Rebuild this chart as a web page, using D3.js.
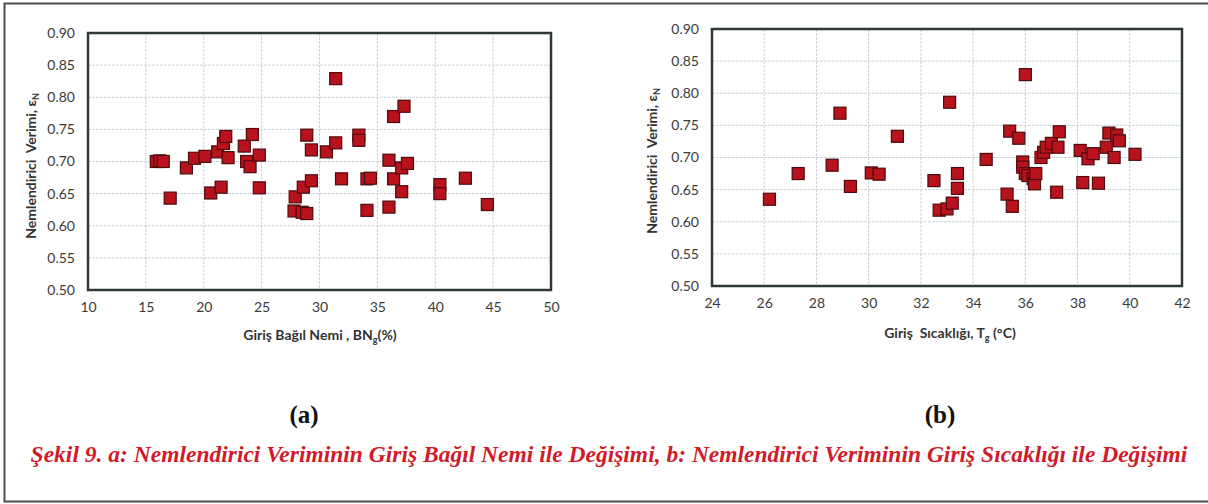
<!DOCTYPE html>
<html>
<head>
<meta charset="utf-8">
<script src="https://cdn.jsdelivr.net/npm/d3@7"></script>
<style>
  body { margin: 0; background: #fff; }
  svg { display: block; }
  .tick text { font-family: Lato, "Noto Sans", sans-serif; font-size: 14px; fill: #3a3a3a; }
  .axis-title { font-family: Lato, "Noto Sans", sans-serif; font-size: 14px; font-weight: bold; fill: #333; }
</style>
</head>
<body>
<svg id="fig" width="1208" height="504"></svg>
<script>
// (a) inlet relative humidity (%) vs humidifier efficiency
const rhX = [15.9, 16.2, 16.5, 17.1, 18.5, 19.2, 20.1, 20.6, 21.5, 21.2, 21.7, 21.9, 22.1, 23.5, 23.7, 24.0,
  24.2, 24.8, 24.8, 27.9, 27.8, 28.5, 28.9, 28.6, 29.3, 28.9, 29.3, 30.6, 31.4, 31.4, 31.9, 33.4, 33.4, 34.1,
  34.4, 34.1, 36.0, 36.0, 36.4, 36.4, 37.3, 37.1, 37.6, 37.1, 40.4, 40.4, 42.6, 44.5];
const rhEff = [0.700, 0.701, 0.700, 0.643, 0.690, 0.705, 0.708, 0.651, 0.660, 0.715, 0.728, 0.739, 0.706, 0.724, 0.700, 0.692,
  0.742, 0.710, 0.659, 0.645, 0.623, 0.621, 0.619, 0.660, 0.670, 0.741, 0.718, 0.715, 0.829, 0.729, 0.673, 0.741, 0.733, 0.673,
  0.674, 0.624, 0.629, 0.702, 0.770, 0.673, 0.786, 0.690, 0.697, 0.653, 0.664, 0.650, 0.674, 0.633];

// (b) inlet temperature (°C) vs humidifier efficiency
const tempX = [26.2, 27.3, 28.6, 28.9, 29.3, 30.1, 30.4, 31.1, 32.5, 32.7, 33.0, 33.2, 33.1, 33.4, 33.4, 34.5,
  35.3, 35.5, 35.4, 35.75, 36.0, 35.9, 35.9, 36.0, 36.1, 36.3, 36.35, 36.4, 36.6, 36.7, 36.8, 37.0, 37.25, 37.3,
  37.2, 38.1, 38.2, 38.4, 38.6, 38.8, 39.1, 39.2, 39.5, 39.6, 39.4, 40.2];
const tempEff = [0.635, 0.675, 0.688, 0.769, 0.655, 0.676, 0.674, 0.733, 0.664, 0.618, 0.620, 0.629, 0.786, 0.675, 0.652, 0.697,
  0.643, 0.624, 0.741, 0.730, 0.829, 0.693, 0.685, 0.675, 0.672, 0.667, 0.659, 0.675, 0.700, 0.708, 0.716, 0.722, 0.716, 0.740,
  0.646, 0.711, 0.661, 0.698, 0.706, 0.660, 0.716, 0.738, 0.735, 0.726, 0.700, 0.705];

const effTicks = [0.50, 0.55, 0.60, 0.65, 0.70, 0.75, 0.80, 0.85, 0.90];
const rhTicks = [10, 15, 20, 25, 30, 35, 40, 45, 50];
const tempTicks = [24, 26, 28, 30, 32, 34, 36, 38, 40, 42];

const svg = d3.select("#fig");

// outer frame
svg.append("rect")
  .attr("x", 4.5).attr("y", 3.5).attr("width", 1215).attr("height", 498)
  .attr("fill", "none").attr("stroke", "#4d4d4d").attr("stroke-width", 2);

function scatter(opt) {
  const x = d3.scaleLinear().domain(d3.extent(opt.xTicks)).range([opt.left, opt.right]);
  const y = d3.scaleLinear().domain([0.50, 0.90]).range([opt.bottom, opt.top]);
  const g = svg.append("g");

  // grid
  g.append("g").selectAll("line.h").data(effTicks).join("line")
    .attr("x1", opt.left).attr("x2", opt.right)
    .attr("y1", d => y(d)).attr("y2", d => y(d))
    .attr("stroke", "#cbd4da").attr("stroke-width", 1).attr("stroke-dasharray", "3,1");
  g.append("g").selectAll("line.v").data(opt.xTicks).join("line")
    .attr("x1", d => x(d)).attr("x2", d => x(d))
    .attr("y1", opt.top).attr("y2", opt.bottom)
    .attr("stroke", "#cbd4da").attr("stroke-width", 1).attr("stroke-dasharray", "3,1");

  // axes
  const yAxis = g.append("g").attr("transform", `translate(${opt.left},0)`)
    .call(d3.axisLeft(y).tickValues(effTicks).tickFormat(d3.format(".2f")).tickSize(0).tickPadding(13));
  const xAxis = g.append("g").attr("transform", `translate(0,${opt.bottom})`)
    .call(d3.axisBottom(x).tickValues(opt.xTicks).tickFormat(d3.format("d")).tickSize(0).tickPadding(12));
  yAxis.select(".domain").remove();
  xAxis.select(".domain").remove();

  // plot border
  g.append("rect")
    .attr("x", opt.left).attr("y", opt.top)
    .attr("width", opt.right - opt.left).attr("height", opt.bottom - opt.top)
    .attr("fill", "none").attr("stroke", "#2e3838").attr("stroke-width", 2.5);

  // points
  const pts = opt.xs.map((v, i) => ({ x: v, y: opt.ys[i] }));
  g.append("g").selectAll("rect").data(pts).join("rect")
    .attr("x", d => x(d.x) - 6).attr("y", d => y(d.y) - 6)
    .attr("width", 12).attr("height", 12)
    .attr("fill", "#b8121c").attr("stroke", "#4e0a0c").attr("stroke-width", 1.2);

  // axis titles
  const yt = g.append("text").attr("class", "axis-title")
    .attr("transform", `translate(${opt.yTitleX},${opt.yTitleY}) rotate(-90)`)
    .attr("text-anchor", "middle");
  yt.append("tspan").text("Nemlendirici\u00a0\u00a0Verimi, ε");
  yt.append("tspan").attr("font-size", "9px").attr("dy", 3).text("N");

  const xt = g.append("text").attr("class", "axis-title")
    .attr("x", opt.xTitleX).attr("y", opt.xTitleY).attr("text-anchor", "middle");
  opt.xTitle.forEach(p => {
    const t = xt.append("tspan").text(p.t);
    if (p.sub) t.attr("font-size", "9px").attr("dy", 3);
    if (p.up) t.attr("dy", -3);
  });

  // panel label
  svg.append("text")
    .attr("x", opt.labelX).attr("y", 423)
    .attr("text-anchor", "middle")
    .attr("font-family", "Liberation Serif, serif").attr("font-weight", "bold").attr("font-size", "25px")
    .attr("fill", "#111").text(opt.label);
}

scatter({
  xs: rhX, ys: rhEff, xTicks: rhTicks,
  left: 88, right: 551, top: 33, bottom: 290,
  yTitleX: 36, yTitleY: 166,
  xTitleX: 320, xTitleY: 340,
  xTitle: [{ t: "Giriş Bağıl Nemi , BN" }, { t: "g", sub: true }, { t: "(%)", up: true }],
  label: "(a)", labelX: 304
});

scatter({
  xs: tempX, ys: tempEff, xTicks: tempTicks,
  left: 712, right: 1182, top: 29, bottom: 286,
  yTitleX: 657, yTitleY: 161,
  xTitleX: 950, xTitleY: 338,
  xTitle: [{ t: "Giriş\u00a0\u00a0Sıcaklığı, T" }, { t: "g", sub: true }, { t: " (°C)", up: true }],
  label: "(b)", labelX: 940
});

// caption
svg.append("text")
  .attr("x", 609).attr("y", 462)
  .attr("text-anchor", "middle")
  .attr("font-family", "Liberation Serif, serif").attr("font-weight", "bold").attr("font-style", "italic")
  .attr("font-size", "23.5px").attr("fill", "#d01c2a")
  .text("Şekil 9. a: Nemlendirici Veriminin Giriş Bağıl Nemi ile Değişimi, b: Nemlendirici Veriminin Giriş Sıcaklığı ile Değişimi");
</script>
</body>
</html>
